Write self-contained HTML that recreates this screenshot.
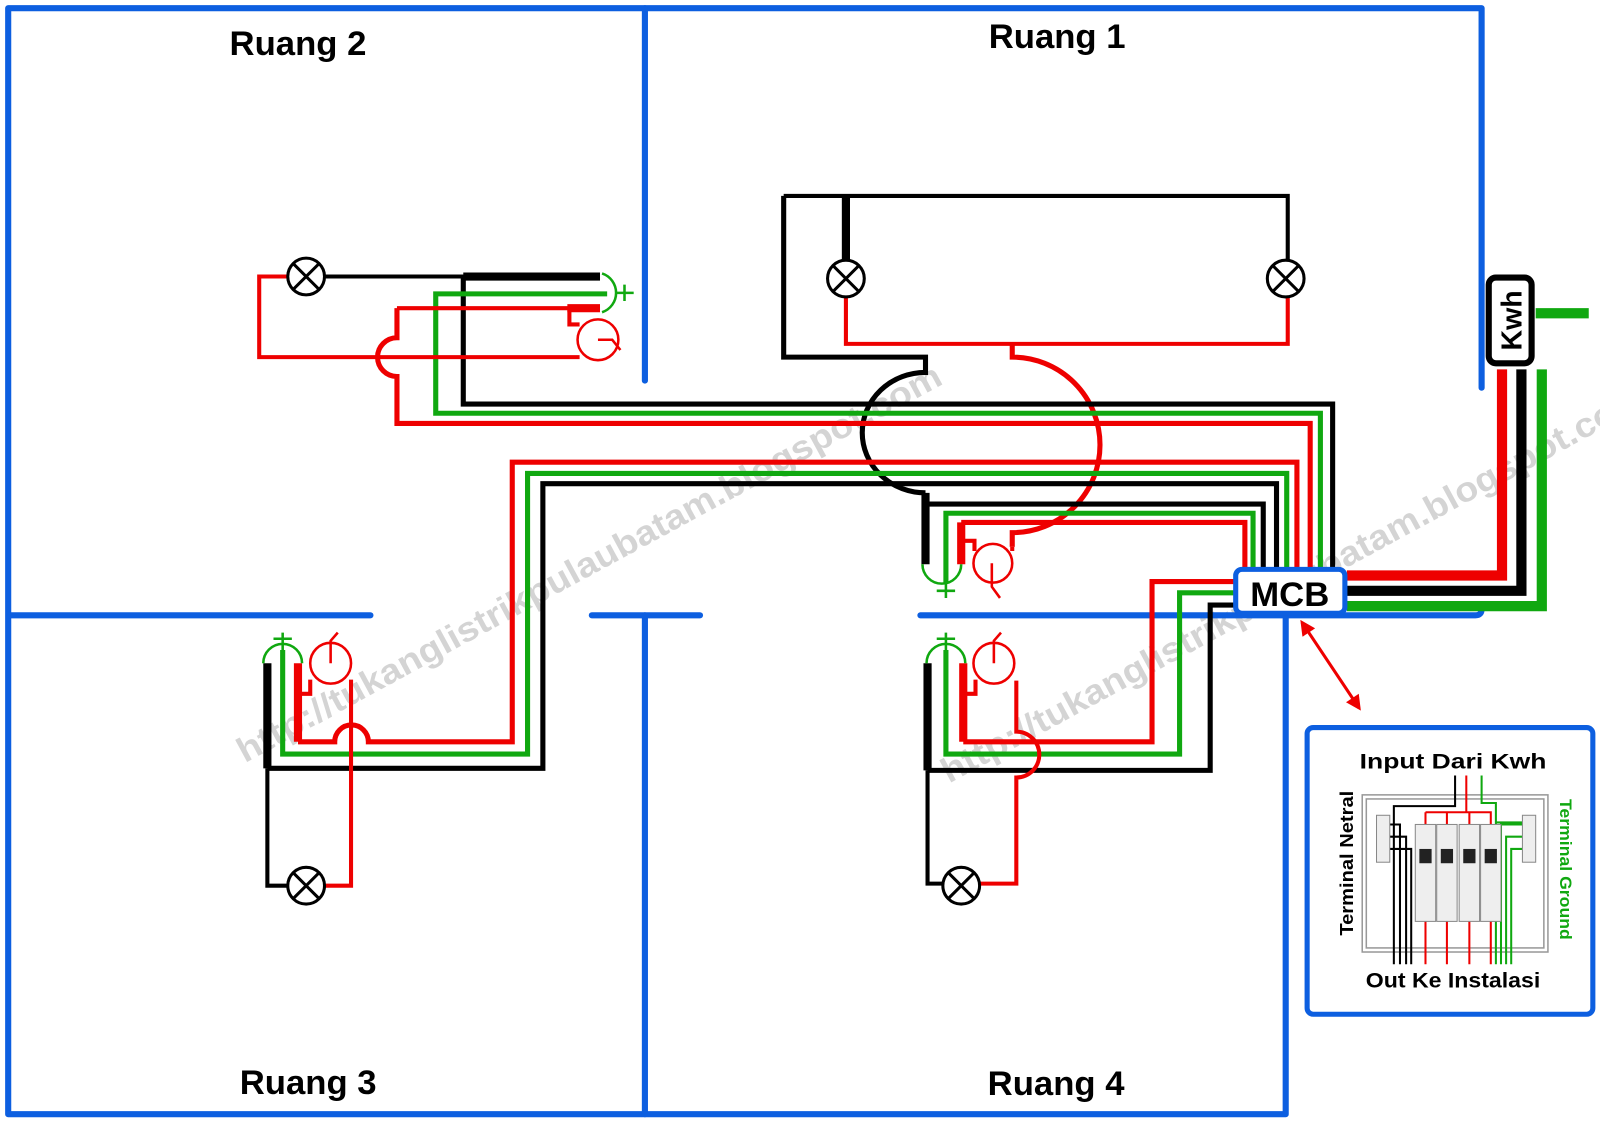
<!DOCTYPE html>
<html><head><meta charset="utf-8"><style>
html,body{margin:0;padding:0;background:#fff;}
svg{display:block;}
text{font-family:"Liberation Sans",Arial,sans-serif;}
</style></head><body>
<svg width="1600" height="1127" viewBox="0 0 1568 1104.5" xmlns="http://www.w3.org/2000/svg">
<defs>
<marker id="ah" viewBox="0 0 10 10" refX="8" refY="5" markerWidth="5" markerHeight="5" orient="auto-start-reverse"><path d="M0,0 L10,5 L0,10 z" fill="#e00"/></marker>
</defs>
<rect width="1568" height="1105" fill="#fff"/>

<!-- watermarks -->
<g fill="#d4d4d4" font-weight="bold" font-size="34">
<text x="0" y="0" transform="translate(240,748) rotate(-28.5)" textLength="780" lengthAdjust="spacingAndGlyphs">http://tukanglistrikpulaubatam.blogspot.com</text>
<text x="0" y="0" transform="translate(930,768) rotate(-28.5)" textLength="780" lengthAdjust="spacingAndGlyphs">http://tukanglistrikpulaubatam.blogspot.com</text>
</g>

<!-- walls -->
<g stroke="#0d5fe0" stroke-width="6" fill="none" stroke-linecap="round" stroke-linejoin="round">
<path d="M1452,380 L1452,8 L8,8 L8,1092 L1260,1092 L1260,603"/>
<path d="M632,8 L632,373"/>
<path d="M632,603 L632,1092"/>
<path d="M10,603 L363,603"/>
<path d="M580,603 L686,603"/>
<path d="M902,603 L1446,603 Q1452,603 1452,597"/>
</g>

<!-- Ruang 1 lamp loop -->
<g fill="none" stroke-linejoin="miter">
<path d="M829,255 L829,192 M768,192 L1262,192 L1262,255" stroke="#000" stroke-width="4"/>
<path d="M829,192 L829,255" stroke="#000" stroke-width="8"/>
<path d="M768,192 L768,350 L907,350 L907,365 A62,59 0 0 0 907,483" stroke="#000" stroke-width="5"/>
<path d="M829,291 L829,337 L1262,337 L1262,291" stroke="#e00" stroke-width="4"/>
<path d="M992,337 L992,350 A86,86 0 0 1 992,522 L992,536" stroke="#e00" stroke-width="5"/>
</g>

<!-- buses -->
<g fill="none" stroke-width="5" stroke-linejoin="miter">
<path d="M454,271 L454,396 L1306,396 L1306,558" stroke="#000"/>
<path d="M595,288 L427,288 L427,405 L1294,405 L1294,558" stroke="#10a810"/>
<path d="M389,302 L389,331 A19,19 0 0 0 389,369 L389,415 L1284,415 L1284,558" stroke="#e00"/>
<path d="M262,753 L532,753 L532,474 L1251,474 L1251,558" stroke="#000"/>
<path d="M277,637 L277,739 L517,739 L517,464 L1261,464 L1261,558" stroke="#10a810"/>
<path d="M292,727 L328,727 A16.5,16.5 0 0 1 361,727 L502,727 L502,453 L1271,453 L1271,558" stroke="#e00"/>
<path d="M907,494 L1238,494 L1238,558" stroke="#000"/>
<path d="M927,572 L927,503 L1228,503 L1228,558" stroke="#10a810"/>
<path d="M942,512 L1220,512 L1220,558" stroke="#e00"/>
<path d="M909,755 L1186,755 L1186,593 L1212,593" stroke="#000"/>
<path d="M927,637 L927,739 L1156,739 L1156,581 L1212,581" stroke="#10a810"/>
<path d="M944,727 L1129,727 L1129,570 L1212,570" stroke="#e00"/>
</g>

<!-- Ruang 2 -->
<g fill="none">
<path d="M281,271 L254,271 L254,350 L568,350" stroke="#e00" stroke-width="4"/>
<path d="M318,271 L588,271" stroke="#000" stroke-width="4"/>
<path d="M454,271 L588,271" stroke="#000" stroke-width="8"/>
<path d="M389,302 L588,302" stroke="#e00" stroke-width="4"/>
<path d="M556,302 L588,302" stroke="#e00" stroke-width="8"/>
<path d="M558,302 L558,318 L568,318" stroke="#e00" stroke-width="4"/>
<path d="M590,268 A20,20 0 0 1 590,306" stroke="#10a810" stroke-width="2.5"/>
<path d="M604,287 L621,287 M612,279 L612,295" stroke="#10a810" stroke-width="2.5"/>
<circle cx="586" cy="333" r="20" stroke="#e00" stroke-width="2.5"/>
<path d="M586,333 L600,333 L608,343" stroke="#e00" stroke-width="2.5"/>
</g>

<!-- Ruang 1 socket/switch -->
<g fill="none">
<path d="M907,483 L907,553" stroke="#000" stroke-width="8"/>
<path d="M942,512 L942,553" stroke="#e00" stroke-width="8"/>
<path d="M942,530 L955,530 L955,540" stroke="#e00" stroke-width="4"/>
<path d="M904,553 A19,19 0 0 0 942,553" stroke="#10a810" stroke-width="2.5"/>
<path d="M927,572 L927,586 M918,579 L936,579" stroke="#10a810" stroke-width="2.5"/>
<circle cx="973" cy="552" r="19" stroke="#e00" stroke-width="2.5"/>
<path d="M992,536 L992,540" stroke="#e00" stroke-width="4"/>
<path d="M972,552 L972,575 L980,586" stroke="#e00" stroke-width="2.5"/>
</g>

<!-- Ruang 3 -->
<g fill="none">
<path d="M262,650 L262,753" stroke="#000" stroke-width="8"/>
<path d="M262,753 L262,868 L281,868" stroke="#000" stroke-width="4"/>
<path d="M292,650 L292,727" stroke="#e00" stroke-width="8"/>
<path d="M292,680 L304,680 L304,666" stroke="#e00" stroke-width="4"/>
<path d="M344,666 L344,868 L318,868" stroke="#e00" stroke-width="4"/>
<path d="M258,650 A19,19 0 0 1 296,650" stroke="#10a810" stroke-width="2.5"/>
<path d="M277,637 L277,620 M268,626 L286,626" stroke="#10a810" stroke-width="2.5"/>
<circle cx="324" cy="650" r="20" stroke="#e00" stroke-width="2.5"/>
<path d="M324,650 L324,628 L331,620" stroke="#e00" stroke-width="2.5"/>
</g>

<!-- Ruang 4 -->
<g fill="none">
<path d="M909,650 L909,755" stroke="#000" stroke-width="8"/>
<path d="M909,755 L909,866 L924,866" stroke="#000" stroke-width="4"/>
<path d="M944,650 L944,727" stroke="#e00" stroke-width="8"/>
<path d="M944,680 L956,680 L956,666" stroke="#e00" stroke-width="4"/>
<path d="M996,667 L996,717 A22,22 0 0 1 996,762 L996,866 L960,866" stroke="#e00" stroke-width="4"/>
<path d="M908,650 A19,19 0 0 1 946,650" stroke="#10a810" stroke-width="2.5"/>
<path d="M927,637 L927,620 M918,626 L936,626" stroke="#10a810" stroke-width="2.5"/>
<circle cx="974" cy="650" r="20" stroke="#e00" stroke-width="2.5"/>
<path d="M974,650 L974,628 L981,620" stroke="#e00" stroke-width="2.5"/>
</g>

<!-- lamps -->
<g fill="#fff" stroke="#000" stroke-width="3">
<g transform="translate(300,271)"><circle r="18"/><path d="M-12.7,-12.7 L12.7,12.7 M12.7,-12.7 L-12.7,12.7"/></g>
<g transform="translate(829,273)"><circle r="18"/><path d="M-12.7,-12.7 L12.7,12.7 M12.7,-12.7 L-12.7,12.7"/></g>
<g transform="translate(1260,273)"><circle r="18"/><path d="M-12.7,-12.7 L12.7,12.7 M12.7,-12.7 L-12.7,12.7"/></g>
<g transform="translate(300,868)"><circle r="18"/><path d="M-12.7,-12.7 L12.7,12.7 M12.7,-12.7 L-12.7,12.7"/></g>
<g transform="translate(942,868)"><circle r="18"/><path d="M-12.7,-12.7 L12.7,12.7 M12.7,-12.7 L-12.7,12.7"/></g>
</g>

<!-- MCB to Kwh -->
<g fill="none" stroke-width="10" stroke-linejoin="miter">
<path d="M1320,564 L1472,564 L1472,362" stroke="#e00"/>
<path d="M1320,579 L1491,579 L1491,362" stroke="#000"/>
<path d="M1320,594 L1511,594 L1511,362" stroke="#10a810"/>
<path d="M1505,307 L1557,307" stroke="#10a810"/>
</g>
<rect x="1459" y="272" width="42" height="84" rx="7" fill="#fff" stroke="#000" stroke-width="6"/>
<text transform="translate(1491,314) rotate(-90)" text-anchor="middle" font-size="28" font-weight="bold">Kwh</text>

<rect x="1211" y="558" width="107" height="43" rx="6" fill="#fff" stroke="#0d5fe0" stroke-width="5"/>
<text x="1264" y="594" text-anchor="middle" font-size="34" font-weight="bold">MCB</text>

<path d="M1276,610 L1332,694" stroke="#e00" stroke-width="3" fill="none" marker-start="url(#ah)" marker-end="url(#ah)"/>

<!-- inset -->
<rect x="1281" y="713" width="280" height="281" rx="6" fill="#fff" stroke="#0d5fe0" stroke-width="5"/>
<rect x="1335" y="779" width="182" height="154" fill="#fff" stroke="#999" stroke-width="1.5"/>
<rect x="1339" y="783" width="174" height="146" fill="none" stroke="#999" stroke-width="1.5"/>
<g fill="none" stroke-width="2">
<path d="M1426,760 L1426,790 L1366,790 L1366,945" stroke="#000"/>
<path d="M1362,808 L1372,808 L1372,945 M1362,820 L1378,820 L1378,945 M1362,832 L1383,832 L1383,945" stroke="#000"/>
<path d="M1437,760 L1437,796 L1461,796 L1461,808 M1397,796 L1461,796 M1397,796 L1397,808 M1418,796 L1418,808 M1440,796 L1440,808" stroke="#e00"/>
<path d="M1397,903 L1397,945 M1418,903 L1418,945 M1440,903 L1440,945 M1461,903 L1461,945" stroke="#e00"/>
<path d="M1452,760 L1452,787 L1466,787 L1466,945 M1492,808 L1471,808 L1471,945 M1492,820 L1476,820 L1476,945 M1492,832 L1481,832 L1481,945 M1466,806 L1492,806" stroke="#10a810"/>
</g>
<g fill="#eee" stroke="#888" stroke-width="1">
<rect x="1349" y="799" width="13" height="46"/><rect x="1492" y="799" width="13" height="46"/>
<rect x="1387" y="808" width="20" height="95"/><rect x="1408" y="808" width="20" height="95"/>
<rect x="1430" y="808" width="20" height="95"/><rect x="1451" y="808" width="20" height="95"/>
</g>
<g fill="#222">
<rect x="1391" y="832" width="12" height="14"/><rect x="1412" y="832" width="12" height="14"/>
<rect x="1434" y="832" width="12" height="14"/><rect x="1455" y="832" width="12" height="14"/>
</g>
<text x="1424" y="753" text-anchor="middle" font-size="21" font-weight="bold" textLength="183" lengthAdjust="spacingAndGlyphs">Input Dari Kwh</text>
<text x="1424" y="968" text-anchor="middle" font-size="21" font-weight="bold" textLength="171" lengthAdjust="spacingAndGlyphs">Out Ke Instalasi</text>
<text transform="translate(1326,846) rotate(-90)" text-anchor="middle" font-size="18" font-weight="bold" textLength="142" lengthAdjust="spacingAndGlyphs">Terminal Netral</text>
<text transform="translate(1529,852) rotate(90)" text-anchor="middle" font-size="16" font-weight="bold" fill="#10a810" textLength="138" lengthAdjust="spacingAndGlyphs">Terminal Ground</text>

<g font-size="34" font-weight="bold" text-anchor="middle">
<text x="292" y="54">Ruang 2</text>
<text x="1036" y="47">Ruang 1</text>
<text x="302" y="1072">Ruang 3</text>
<text x="1035" y="1073">Ruang 4</text>
</g>
</svg>
</body></html>
